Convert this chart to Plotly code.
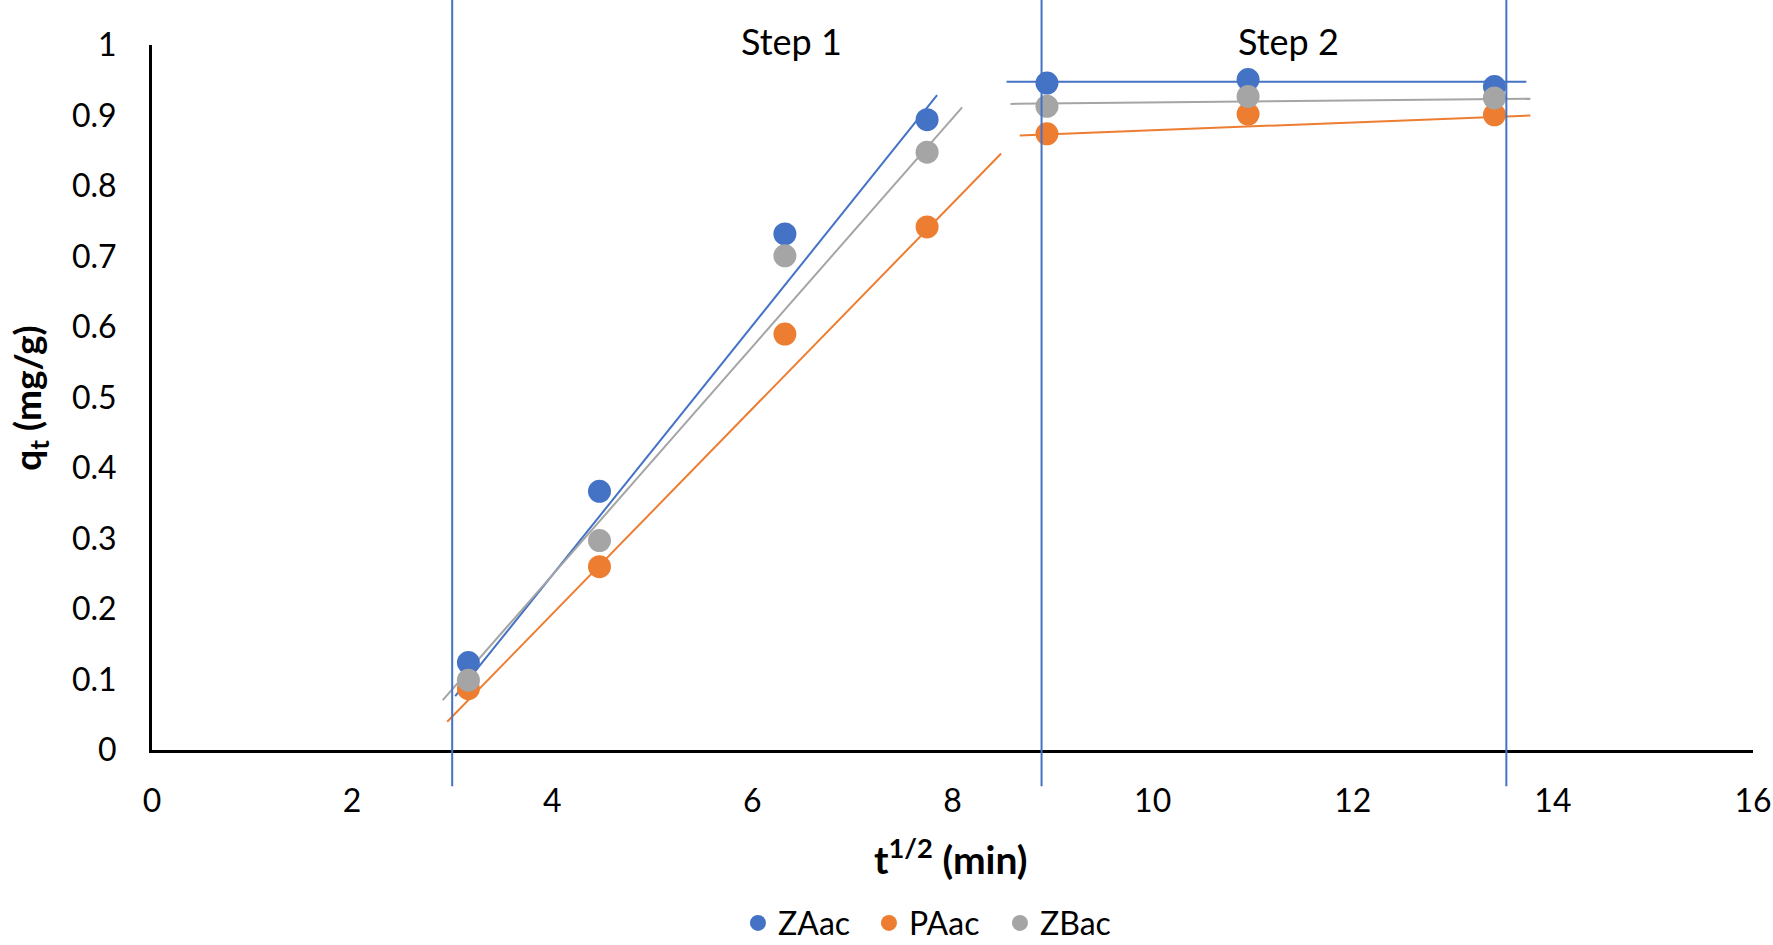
import plotly.graph_objects as go

# ---- data ----
t_sqrt = [3.162, 4.472, 6.325, 7.746, 8.944, 10.954, 13.416]
ZAac = [0.124, 0.367, 0.732, 0.894, 0.946, 0.951, 0.941]
PAac = [0.087, 0.260, 0.590, 0.742, 0.874, 0.902, 0.901]
ZBac = [0.099, 0.297, 0.701, 0.848, 0.913, 0.927, 0.925]

series_names = ["ZAac", "PAac", "ZBac"]
series_values = [ZAac, PAac, ZBac]
colors = ["#4472C4", "#ED7D31", "#A5A5A5"]

# trendlines: slope, intercept, x-start, x-end
step1_slope = [0.177, 0.1456, 0.162]
step1_intercept = [-0.460, -0.3895, -0.400]
step1_xstart = [3.03, 2.95, 2.906]
step1_xend = [7.846, 8.486, 8.096]

step2_slope = [0.0, 0.00557, 0.00144]
step2_intercept = [0.948, 0.8233, 0.9041]
step2_xstart = [8.54, 8.672, 8.579]
step2_xend = [13.735, 13.775, 13.775]

step_boundaries = [3.0, 8.89, 13.535]
step_labels = ["Step 1", "Step 2"]
step_label_x = [6.39, 11.357]

x_ticks = list(range(0, 17, 2))
y_ticks = [round(i * 0.1, 1) for i in range(11)]

FONT = "Lato"

FIG_W = 1773
FIG_H = 945
M_L = 151.5
M_T = 45.2
M_R = 20.4
M_B = 195.3

fig = go.Figure()

# trendlines
for i in range(3):
    for slope, icpt, xs, xe in [
        (step1_slope[i], step1_intercept[i], step1_xstart[i], step1_xend[i]),
        (step2_slope[i], step2_intercept[i], step2_xstart[i], step2_xend[i]),
    ]:
        fig.add_trace(go.Scatter(
            x=[xs, xe], y=[icpt + slope * xs, icpt + slope * xe],
            mode="lines", line=dict(color=colors[i], width=2),
            showlegend=False, hoverinfo="skip"))

# points
for name, vals, col in zip(series_names, series_values, colors):
    fig.add_trace(go.Scatter(
        x=t_sqrt, y=vals, mode="markers", name=name,
        marker=dict(color=col, size=23, line=dict(width=0))))

# vertical step boundaries
for xb in step_boundaries:
    fig.add_shape(type="line", xref="x", yref="paper",
                  x0=xb, x1=xb, y0=-0.0515, y1=1.07,
                  line=dict(color="#4472C4", width=2))

for lab, lx in zip(step_labels, step_label_x):
    fig.add_annotation(x=lx, y=1.005, xref="x", yref="paper", text=lab,
                       showarrow=False, xanchor="center", yanchor="middle",
                       font=dict(family=FONT, size=36, color="#000000"))

fig.add_annotation(x=0.499, y=-0.151, xref="paper", yref="paper",
                   text="<b>t<sup>1/2</sup> (min)</b>", showarrow=False,
                   xanchor="center", yanchor="middle",
                   font=dict(family=FONT, size=39, color="#000000"))
fig.add_annotation(x=-0.0765, y=0.499, xref="paper", yref="paper",
                   text="<b>q<sub>t</sub> (mg/g)</b>", showarrow=False,
                   textangle=-90, xanchor="center", yanchor="middle",
                   borderpad=0,
                   font=dict(family=FONT, size=37, color="#000000"))

fig.update_layout(
    template="none",
    width=FIG_W, height=FIG_H,
    margin=dict(l=M_L, r=M_R, t=M_T, b=M_B, pad=0, autoexpand=False),
    paper_bgcolor="white", plot_bgcolor="white",
    font=dict(family=FONT, size=32, color="#000000"),
    showlegend=True,
    legend=dict(orientation="h", x=0.366, xanchor="left", y=-0.2456,
                yanchor="middle", font=dict(family=FONT, size=32),
                itemsizing="trace", traceorder="normal", entrywidth=86,
                bgcolor="rgba(0,0,0,0)"),
    xaxis=dict(range=[0, 16], tickvals=x_ticks, showgrid=False, zeroline=False,
               showline=True, linecolor="#000000", linewidth=3,
               ticks="", ticklabelstandoff=21, automargin=False,
               fixedrange=True),
    yaxis=dict(range=[0, 1], tickvals=y_ticks, showgrid=False, zeroline=False,
               showline=True, linecolor="#000000", linewidth=3,
               ticks="", ticklabelstandoff=26, automargin=False,
               fixedrange=True),
)

fig.write_html(
    "out.html",
    config={"displayModeBar": False},
    post_script="document.body.style.margin='0';"
                "document.documentElement.style.overflow='hidden';",
)
